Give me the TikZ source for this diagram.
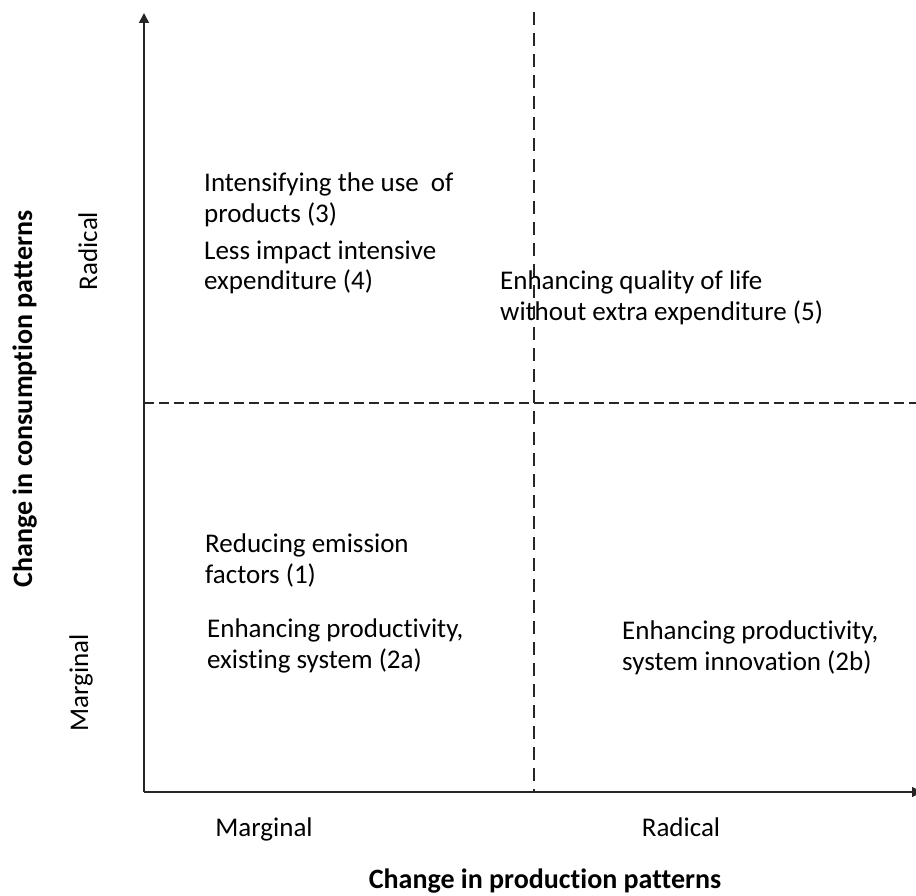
\documentclass[tikz,border=0pt]{standalone}
\usepackage{fontspec}
\setmainfont{Carlito}[Ligatures=NoCommon]
\usetikzlibrary{arrows.meta,positioning}

\begin{document}
\begin{tikzpicture}[
        x=1pt,
        y=-1pt,
        every node/.style={
                inner sep=0pt,
                align=left,
                font=\fontsize{27}{31}\selectfont
            },
        axisline/.style={
                draw=black!85,
                line width=1.5pt,
                -{Triangle[length=10pt,width=10pt]}
            },
        quadline/.style={
                draw=black!85,
                line width=1.3pt
            },
        itemtext/.style={
                anchor=base west
            },
        scalelabel/.style={
                anchor=base
            },
        axistitle/.style={
                anchor=base,
                font=\fontsize{28}{32}\selectfont\bfseries
            }
    ]

    \useasboundingbox (0,0) rectangle (916,896);

    % axes and quadrant lines
    \coordinate (origin) at (144,792);
    \coordinate (ytip) at (144,13);
    \coordinate (xtip) at (922,792);
    \coordinate (vtop) at (534,12);
    \coordinate (vbot) at (534,792);
    \coordinate (hleft) at (144,403);
    \coordinate (hright) at (916,403);

    \draw[quadline, dash pattern=on 13pt off 8pt] (vtop) -- (vbot);
    \draw[quadline, dash pattern=on 10pt off 5pt] (hleft) -- (hright);
    \draw[axisline] (origin) -- (ytip);
    \draw[axisline] (origin) -- (xtip);

    % strategies (base = last line)
    \node[itemtext] (intense) at (204,223) {Intensifying the use\ \ of\\products (3)};
    \node[itemtext] (lessimpact) at (204,290) {Less impact intensive\\expenditure (4)};
    \node[itemtext] (quality) at (500,320) {Enhancing quality of life\\without extra expenditure (5)};
    \node[itemtext] (emission) at (205,583) {Reducing emission\\factors (1)};
    \node[itemtext] (prodexist) at (207,668) {Enhancing productivity,\\existing system (2a)};
    \node[itemtext] (prodinnov) at (622,670) {Enhancing productivity,\\system innovation (2b)};

    % axis scale and titles
    \node[scalelabel] (xmarg) at (264,836) {Marginal};
    \node[scalelabel] (xrad) at (681,836) {Radical};
    \node[scalelabel, rotate=90] (ymarg) at (88,683) {Marginal};
    \node[scalelabel, rotate=90] (yrad) at (97,251) {Radical};
    \node[axistitle] (xtitle) at (545,888) {Change in production patterns};
    \node[axistitle, rotate=90] (ytitle) at (32,399) {Change in consumption patterns};

\end{tikzpicture}
\end{document}
